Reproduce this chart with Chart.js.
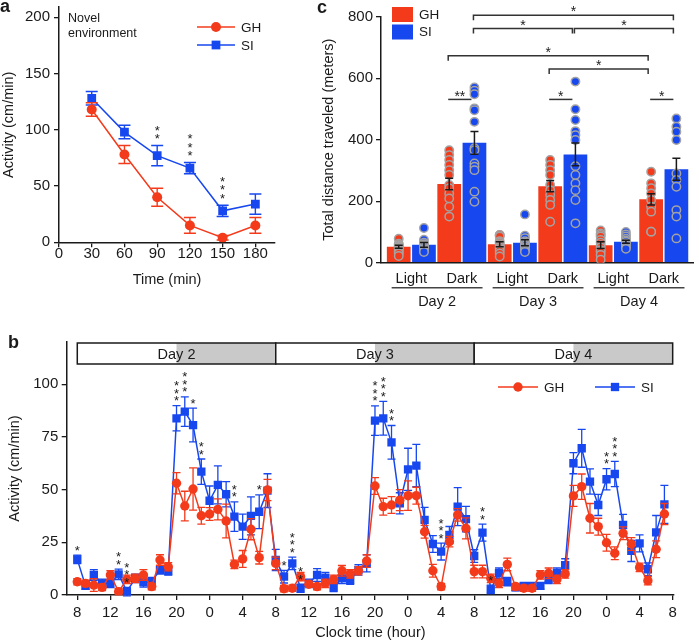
<!DOCTYPE html>
<html>
<head>
<meta charset="utf-8">
<title>GH vs SI activity</title>
<script src="https://cdn.jsdelivr.net/npm/chart.js@4.4.1/dist/chart.umd.min.js"></script>
<style>
    body { margin: 0; background: #fff; }
    .figure { position: relative; width: 699px; height: 642px; overflow: hidden; }
    .figure canvas { position: absolute; }
</style>
</head>
<body>
<div class="figure">
    <canvas id="noveltyLine" width="290" height="300" style="left:0;top:0;"></canvas>
    <canvas id="distanceBar" width="389" height="310" style="left:310px;top:0;"></canvas>
    <canvas id="hourlyLine" width="699" height="312" style="left:0;top:330px;"></canvas>
</div>

<script>
    // ---- a: novel environment, 30 min bins
    var timeA = [30, 60, 90, 120, 150, 180];
    var ghA = [118, 78, 40, 15, 4, 15];
    var ghErrA = [6, 8, 8, 7, 2, 7];
    var siA = [128, 98, 77, 66, 28, 34];
    var siErrA = [6, 6, 9, 5, 5, 9];
    var starsA = [[2, 2], [3, 3], [4, 3]];          // [point index, number of stars]
    var xTicksA = [0, 30, 60, 90, 120, 150, 180];
    var yTicksA = [0, 50, 100, 150, 200];

    // ---- c: total distance per phase
    var phaseC = ['Light', 'Dark', 'Light', 'Dark', 'Light', 'Dark'];
    var daysC = ['Day 2', 'Day 3', 'Day 4'];
    var ghC = [52, 256, 60, 249, 57, 206];
    var ghErrC = [5, 19, 8, 18, 11, 18];
    var siC = [58, 390, 65, 352, 68, 304];
    var siErrC = [8, 37, 10, 37, 5, 36];
    var ghDotsC = [
        [78, 62, 58, 55, 52, 50, 48, 45, 40, 35, 30, 22],
        [366, 350, 334, 318, 301, 285, 253, 242, 225, 209, 182, 150],
        [90, 90, 85, 70, 65, 60, 55, 50, 45, 38, 30, 20],
        [334, 318, 301, 285, 253, 236, 220, 204, 188, 133],
        [105, 95, 90, 85, 74, 65, 57, 50, 41, 35, 25, 10],
        [296, 258, 242, 225, 204, 182, 166, 101, 101]
    ];
    var siDotsC = [
        [113, 75, 65, 60, 58, 55, 50, 45, 40, 35],
        [570, 559, 548, 502, 496, 458, 372, 366, 323, 312, 301, 231, 198],
        [157, 88, 80, 70, 65, 60, 55, 50, 45, 40, 35],
        [589, 499, 464, 428, 415, 399, 314, 285, 258, 236, 204, 128],
        [100, 92, 85, 78, 72, 68, 62, 57, 50, 45],
        [469, 442, 426, 399, 290, 269, 247, 171, 150, 79]
    ];
    var yTicksC = [0, 200, 400, 600, 800];
    // [from bar, to bar, level, label, end ticks]  bars: 0..11 = GH,SI per phase
    var bracketsC = [
        [2, 3, 531, '**', false], [6, 7, 531, '*', false], [10, 11, 531, '*', false],
        [6, 10, 630, '*', true], [2, 10, 673, '*', true],
        [3, 7, 762, '*', true], [7, 11, 762, '*', true], [3, 11, 805, '*', true]
    ];

    // ---- b: hourly activity, day 2 08:00 to day 5 07:00
    var xTickLabelsB = ['8', '12', '16', '20', '0', '4', '8', '12', '16', '20', '0', '4', '8', '12', '16', '20', '0', '4', '8'];
    var daysB = ['Day 2', 'Day 3', 'Day 4'];
    var ghB = [
        6.3, 5.5, 4.7, 3.6, 9.5, 1.6, 7.4, 7.9, 9.5, 4.0, 16.6, 13.4,
        53.0, 42.2, 50.3, 37.6, 38.4, 40.6, 35.1, 14.5, 17.1, 31.2, 17.7, 49.8,
        15.0, 3.0, 3.2, 8.7, 5.1, 4.0, 5.5, 7.4, 11.5, 10.0, 11.5, 16.1,
        51.7, 41.9, 42.7, 45.0, 47.1, 47.1, 30.0, 11.5, 4.0, 25.3, 38.0, 31.6,
        11.1, 11.1, 7.9, 5.5, 14.5, 4.0, 3.2, 3.2, 9.5, 10.3, 7.4, 10.0,
        47.0, 51.4, 36.4, 32.4, 24.8, 19.8, 29.3, 24.2, 13.1, 6.8, 21.7, 38.4
    ];
    var ghErrB = [
        1.5, 1.5, 3, 1.5, 2, 1.5, 2, 2, 2.5, 1.5, 2.5, 2,
        5, 7, 10, 4, 3, 5, 8, 2, 4, 5, 3, 5,
        3, 1.5, 1.5, 2, 1.5, 1.5, 2, 2, 2.5, 2, 2, 3,
        4, 4, 4, 5, 7, 4, 3, 3, 1.5, 2.5, 3, 5,
        3, 3, 2, 2, 3, 1.5, 1.5, 1.5, 2, 2.5, 2, 2,
        5, 6, 7, 4, 4, 3, 3, 3, 2, 2, 4, 5
    ];
    var siB = [
        16.9, 4.3, 9.5, 5.5, 5.5, 9.8, 1.6, 7.9, 6.3, 6.3, 11.9, 11.4,
        83.8, 87.0, 80.6, 58.5, 44.7, 52.2, 47.8, 37.2, 32.4, 37.5, 39.5, 49.5,
        16.6, 8.7, 15.0, 3.2, 5.5, 9.5, 8.2, 3.6, 7.9, 7.1, 11.9, 15.0,
        82.7, 83.8, 72.4, 43.5, 59.6, 61.4, 35.6, 24.2, 20.6, 28.5, 41.9, 36.0,
        18.5, 29.6, 2.7, 10.3, 6.3, 3.6, 4.3, 4.3, 4.3, 7.4, 10.3, 14.2,
        62.5, 69.6, 53.8, 42.7, 54.9, 57.4, 33.2, 20.9, 24.5, 12.2, 29.7, 43.0
    ];
    var siErrB = [
        2, 1.5, 2.5, 2, 2, 2.5, 2, 2, 2.5, 2, 2, 2,
        6, 7, 8, 6, 7, 9, 6, 7, 6, 9, 8, 8,
        5, 3, 3, 2, 2, 3, 2.5, 2, 2.5, 2, 2.5, 4,
        7, 8, 8, 5, 10, 10, 6, 4, 4, 4, 9, 6,
        3, 4, 2, 2.5, 2, 1.5, 1.5, 1.5, 1.5, 2, 2.5, 3,
        5, 9, 6, 5, 5, 6, 5, 5, 4, 3, 8, 9
    ];
    var starsB = [[0, 1], [5, 2], [6, 3], [12, 3], [13, 3], [14, 1], [15, 2], [19, 2], [22, 1],
        [25, 1], [26, 3], [27, 2], [36, 3], [37, 3], [38, 2], [44, 3], [49, 2], [50, 1], [64, 2], [65, 3]];
    var yTicksB = [0, 25, 50, 75, 100];

    var RED = '#f33b1c';
    var BLUE = '#1747ee';
    var INK = '#1a1a1a';
    var FAMILY = '"Liberation Sans", Arial, Helvetica, sans-serif';

    Chart.defaults.font.family = FAMILY;
    Chart.defaults.color = INK;
    Chart.defaults.animation = false;

    function font(px, bold) {
        return (bold ? 'bold ' : '') + px + 'px ' + FAMILY;
    }

    function fixWidth(w) {
        return function (scale) {
            scale.width = w;
            scale.paddingTop = 0; scale.paddingBottom = 0; scale.paddingLeft = 0; scale.paddingRight = 0;
        };
    }

    function fixHeight(h) {
        return function (scale) {
            scale.height = h;
            scale.paddingTop = 0; scale.paddingBottom = 0; scale.paddingLeft = 0; scale.paddingRight = 0;
        };
    }

    function setTicks(values) {
        return function (scale) {
            scale.ticks = values.map(function (v) { return {value: v}; });
        };
    }

    function axisGrid(tickLen) {
        return {display: tickLen > 0, drawOnChartArea: false, tickLength: tickLen, color: INK, lineWidth: 1.3};
    }

    function drawMarker(ctx, style, r, x, y) {
        ctx.beginPath();
        if (style === 'rect') {
            var s = r * Math.SQRT1_2;
            ctx.rect(x - s, y - s, 2 * s, 2 * s);
        } else {
            ctx.arc(x, y, r, 0, Math.PI * 2);
        }
        ctx.fill();
    }

    // vertical column of asterisks, centre of lowest one at yLow
    function drawStars(ctx, x, yLow, n, size, step) {
        ctx.font = font(size);
        ctx.textAlign = 'center';
        ctx.textBaseline = 'alphabetic';
        for (var k = 0; k < n; k++) {
            ctx.fillText('*', x, yLow - k * step + 0.58 * size);
        }
    }

    // SEM bars under each line dataset
    var lineErrors = {
        id: 'lineErrors',
        beforeDatasetDraw: function (chart, args, opts) {
            var err = opts.errors[args.index];
            if (!err) return;
            var ds = chart.data.datasets[args.index];
            var ys = chart.scales.y;
            var ctx = chart.ctx;
            ctx.save();
            ctx.strokeStyle = ds.borderColor;
            ctx.lineWidth = opts.width;
            args.meta.data.forEach(function (pt, i) {
                var v = ds.data[i].y;
                var hi = ys.getPixelForValue(v + err[i]);
                var lo = ys.getPixelForValue(v - err[i]);
                ctx.beginPath();
                ctx.moveTo(pt.x, lo); ctx.lineTo(pt.x, hi);
                ctx.moveTo(pt.x - opts.cap, hi); ctx.lineTo(pt.x + opts.cap, hi);
                ctx.moveTo(pt.x - opts.cap, lo); ctx.lineTo(pt.x + opts.cap, lo);
                ctx.stroke();
            });
            ctx.restore();
        }
    };

    // significance stars, legend, day bar, notes
    var lineExtras = {
        id: 'lineExtras',
        afterDraw: function (chart, args, opts) {
            var ctx = chart.ctx;
            var xs = chart.scales.x, ys = chart.scales.y, area = chart.chartArea;
            ctx.save();

            if (opts.days) {
                var top = area.top + 1, h = 21;
                opts.days.forEach(function (d, k) {
                    var x0 = xs.getPixelForValue(24 * k), xm = xs.getPixelForValue(24 * k + 12), x1 = xs.getPixelForValue(24 * k + 24);
                    ctx.fillStyle = '#fff';
                    ctx.fillRect(x0, top, xm - x0, h);
                    ctx.fillStyle = '#c9c9c9';
                    ctx.fillRect(xm, top, x1 - xm, h);
                    ctx.strokeStyle = INK;
                    ctx.lineWidth = 1.5;
                    ctx.strokeRect(x0, top, x1 - x0, h);
                    ctx.fillStyle = INK;
                    ctx.font = font(14.5);
                    ctx.textAlign = 'center';
                    ctx.textBaseline = 'middle';
                    ctx.fillText(d, xm, top + h / 2 + 1);
                });
            }

            var sds = chart.data.datasets[1];
            var smeta = chart.getDatasetMeta(1);
            ctx.fillStyle = INK;
            opts.stars.forEach(function (s) {
                var i = s[0];
                var hi = ys.getPixelForValue(sds.data[i].y + opts.starErr[i]);
                drawStars(ctx, smeta.data[i].x, hi - opts.starGap, s[1], 13, opts.starStep);
            });

            opts.key.forEach(function (it) {
                var ds = chart.data.datasets[it.dataset];
                ctx.strokeStyle = ds.borderColor;
                ctx.fillStyle = ds.borderColor;
                ctx.lineWidth = 1.5;
                ctx.beginPath();
                ctx.moveTo(it.x, it.y);
                ctx.lineTo(it.x + it.len, it.y);
                ctx.stroke();
                drawMarker(ctx, ds.pointStyle, ds.pointRadius, it.x + it.len / 2, it.y);
                ctx.fillStyle = INK;
                ctx.font = font(13.5);
                ctx.textAlign = 'left';
                ctx.textBaseline = 'middle';
                ctx.fillText(ds.label, it.x + it.len + 6, it.y + 1);
            });

            opts.notes.forEach(function (n) {
                ctx.fillStyle = INK;
                ctx.font = n.font;
                ctx.textAlign = 'left';
                ctx.textBaseline = 'middle';
                ctx.fillText(n.text, n.x, n.y);
            });
            ctx.restore();
        }
    };

    // SEM, brackets, legend and day labels for the bar panel
    var distanceExtras = {
        id: 'distanceExtras',
        afterDatasetsDraw: function (chart) {
            var ctx = chart.ctx;
            var xs = chart.scales.x, ys = chart.scales.y, area = chart.chartArea;
            var gh = chart.getDatasetMeta(2), si = chart.getDatasetMeta(3);
            function barX(k) { return (k % 2 ? si : gh).data[Math.floor(k / 2)].x; }
            ctx.save();

            ctx.strokeStyle = INK;
            ctx.lineWidth = 1.5;
            [[gh, ghC, ghErrC], [si, siC, siErrC]].forEach(function (set) {
                set[0].data.forEach(function (bar, i) {
                    var hi = ys.getPixelForValue(set[1][i] + set[2][i]);
                    var lo = ys.getPixelForValue(set[1][i] - set[2][i]);
                    ctx.beginPath();
                    ctx.moveTo(bar.x, lo); ctx.lineTo(bar.x, hi);
                    ctx.moveTo(bar.x - 4, lo); ctx.lineTo(bar.x + 4, lo);
                    ctx.moveTo(bar.x - 4, hi); ctx.lineTo(bar.x + 4, hi);
                    ctx.stroke();
                });
            });

            ctx.strokeStyle = '#333';
            ctx.fillStyle = INK;
            bracketsC.forEach(function (b) {
                var x1 = barX(b[0]) - 1, x2 = barX(b[1]) - 3;
                var y = ys.getPixelForValue(b[2]);
                ctx.beginPath();
                if (b[4]) {
                    ctx.moveTo(x1, y + 5); ctx.lineTo(x1, y); ctx.lineTo(x2, y); ctx.lineTo(x2, y + 5);
                } else {
                    ctx.moveTo(x1, y); ctx.lineTo(x2, y);
                }
                ctx.stroke();
                ctx.font = font(14);
                ctx.textAlign = 'center';
                ctx.textBaseline = 'alphabetic';
                ctx.fillText(b[3], (x1 + x2) / 2, y - 7 + 0.58 * 14);
            });

            ctx.strokeStyle = '#444';
            ctx.lineWidth = 1.5;
            daysC.forEach(function (d, k) {
                var x1 = xs.getPixelForValue(2 * k - 0.39), x2 = xs.getPixelForValue(2 * k + 1.41);
                var y = area.bottom + 25;
                ctx.beginPath();
                ctx.moveTo(x1, y); ctx.lineTo(x2, y);
                ctx.stroke();
                ctx.font = font(14.5);
                ctx.textAlign = 'center';
                ctx.textBaseline = 'middle';
                ctx.fillText(d, (x1 + x2) / 2, y + 14);
            });

            [gh, si].forEach(function (meta, k) {
                var ds = chart.data.datasets[meta.index];
                ctx.fillStyle = ds.backgroundColor;
                ctx.fillRect(82, 7 + 17.5 * k, 21, 15);
                ctx.fillStyle = INK;
                ctx.font = font(13.5);
                ctx.textAlign = 'left';
                ctx.textBaseline = 'middle';
                ctx.fillText(ds.label, 109, 15 + 17.5 * k);
            });

            ctx.font = font(18, true);
            ctx.textAlign = 'center';
            ctx.textBaseline = 'middle';
            ctx.fillText('c', 12, 8);
            ctx.restore();
        }
    };

    function makeNoveltyLine() {
        var ctx = document.getElementById('noveltyLine').getContext('2d');
        new Chart(ctx, {
            type: 'line',
            data: {
                datasets: [{
                    label: 'GH',
                    data: timeA.map(function (t, i) { return {x: t, y: ghA[i]}; }),
                    borderColor: RED, backgroundColor: RED, pointBackgroundColor: RED,
                    pointStyle: 'circle', pointRadius: 5, pointBorderWidth: 0, borderWidth: 1.5, tension: 0
                }, {
                    label: 'SI',
                    data: timeA.map(function (t, i) { return {x: t, y: siA[i]}; }),
                    borderColor: BLUE, backgroundColor: BLUE, pointBackgroundColor: BLUE,
                    pointStyle: 'rect', pointRadius: 6.2, pointBorderWidth: 0, borderWidth: 1.5, tension: 0
                }]
            },
            options: {
                responsive: false,
                layout: {padding: {top: 7.2, right: 15, left: 0, bottom: 0}},
                plugins: {
                    legend: {display: false},
                    tooltip: {enabled: false},
                    lineErrors: {errors: [ghErrA, siErrA], cap: 6, width: 1.4},
                    lineExtras: {
                        stars: starsA, starErr: siErrA, starGap: 10, starStep: 8.3,
                        key: [{dataset: 0, x: 197, y: 27, len: 38}, {dataset: 1, x: 197, y: 45, len: 38}],
                        notes: [
                            {text: 'Novel', x: 68, y: 18.5, font: font(12.5)},
                            {text: 'environment', x: 68, y: 34, font: font(12.5)},
                            {text: 'a', x: 0, y: 7, font: font(18, true)}
                        ]
                    }
                },
                scales: {
                    x: {
                        type: 'linear', min: 0, max: 198,
                        afterBuildTicks: setTicks(xTicksA),
                        afterFit: fixHeight(57.7),
                        grid: axisGrid(5),
                        border: {display: true, color: INK, width: 1.5},
                        ticks: {font: {size: 15}, padding: -2, maxRotation: 0, autoSkip: false},
                        title: {display: true, text: 'Time (min)', font: {size: 14.5}, padding: {top: 0, bottom: 11}}
                    },
                    y: {
                        min: 0, max: 209,
                        afterBuildTicks: setTicks(yTicksA),
                        afterFit: fixWidth(59),
                        grid: axisGrid(5),
                        border: {display: true, color: INK, width: 1.5},
                        ticks: {font: {size: 15}, padding: 4},
                        title: {display: true, text: 'Activity (cm/min)', font: {size: 14.5}, padding: {top: 0, bottom: 0}}
                    }
                }
            },
            plugins: [lineErrors, lineExtras]
        });
    }

    function makeDistanceBar() {
        var ctx = document.getElementById('distanceBar').getContext('2d');
        function dots(sets, shift) {
            var pts = [];
            sets.forEach(function (vals, i) {
                vals.forEach(function (v) { pts.push({x: i + shift, y: v}); });
            });
            return pts;
        }
        new Chart(ctx, {
            type: 'bar',
            data: {
                datasets: [{
                    type: 'scatter', label: 'GH animals', data: dots(ghDotsC, -0.25), order: 0,
                    backgroundColor: RED, borderColor: '#a3a3a3', borderWidth: 1.5, pointRadius: 4.2
                }, {
                    type: 'scatter', label: 'SI animals', data: dots(siDotsC, 0.25), order: 0,
                    backgroundColor: BLUE, borderColor: '#a3a3a3', borderWidth: 1.5, pointRadius: 4.2
                }, {
                    label: 'GH',
                    data: phaseC.map(function (p, i) { return {x: i, y: ghC[i]}; }),
                    backgroundColor: RED, order: 1, categoryPercentage: 1, barPercentage: 0.94
                }, {
                    label: 'SI',
                    data: phaseC.map(function (p, i) { return {x: i, y: siC[i]}; }),
                    backgroundColor: BLUE, order: 1, categoryPercentage: 1, barPercentage: 0.94
                }]
            },
            options: {
                responsive: false,
                layout: {padding: {top: 16.7, right: 1, left: 0, bottom: 0}},
                plugins: {legend: {display: false}, tooltip: {enabled: false}},
                scales: {
                    x: {
                        type: 'linear', min: -0.601, max: 5.585, offset: false,
                        afterBuildTicks: setTicks([0, 1, 2, 3, 4, 5]),
                        afterFit: fixHeight(47.3),
                        grid: {display: false},
                        border: {display: true, color: INK, width: 1.5},
                        ticks: {
                            font: {size: 14.5}, padding: 0, maxRotation: 0, autoSkip: false,
                            callback: function (value) { return phaseC[value]; }
                        }
                    },
                    y: {
                        min: 0, max: 800,
                        afterBuildTicks: setTicks(yTicksC),
                        afterFit: fixWidth(71),
                        grid: axisGrid(5),
                        border: {display: true, color: INK, width: 1.5},
                        ticks: {font: {size: 15}, padding: 3},
                        title: {display: true, text: 'Total distance traveled (meters)', font: {size: 14.5}, padding: {top: 10.3, bottom: 0}}
                    }
                }
            },
            plugins: [distanceExtras]
        });
    }

    function makeHourlyLine() {
        var ctx = document.getElementById('hourlyLine').getContext('2d');
        new Chart(ctx, {
            type: 'line',
            data: {
                datasets: [{
                    label: 'GH',
                    data: ghB.map(function (v, i) { return {x: i, y: v}; }),
                    borderColor: RED, backgroundColor: RED, pointBackgroundColor: RED,
                    pointStyle: 'circle', pointRadius: 4.7, pointBorderWidth: 0, borderWidth: 1.5, tension: 0
                }, {
                    label: 'SI',
                    data: siB.map(function (v, i) { return {x: i, y: v}; }),
                    borderColor: BLUE, backgroundColor: BLUE, pointBackgroundColor: BLUE,
                    pointStyle: 'rect', pointRadius: 5.9, pointBorderWidth: 0, borderWidth: 1.5, tension: 0
                }]
            },
            options: {
                responsive: false,
                layout: {padding: {top: 12, right: 25, left: 0, bottom: 0}},
                plugins: {
                    legend: {display: false},
                    tooltip: {enabled: false},
                    lineErrors: {errors: [ghErrB, siErrB], cap: 4, width: 1.3},
                    lineExtras: {
                        days: daysB,
                        stars: starsB, starErr: siErrB, starGap: 8, starStep: 7.5,
                        key: [{dataset: 0, x: 498, y: 57, len: 40}, {dataset: 1, x: 595, y: 57, len: 40}],
                        notes: [{text: 'b', x: 8, y: 13.5, font: font(18, true)}]
                    }
                },
                scales: {
                    x: {
                        type: 'linear', min: -1.28, max: 72.16,
                        afterBuildTicks: setTicks(xTickLabelsB.map(function (l, k) { return k * 4; })),
                        afterFit: fixHeight(47),
                        grid: axisGrid(5),
                        border: {display: true, color: INK, width: 1.5},
                        ticks: {
                            font: {size: 15}, padding: 3.5, maxRotation: 0, autoSkip: false,
                            callback: function (value, index) { return xTickLabelsB[index]; }
                        },
                        title: {display: true, text: 'Clock time (hour)', font: {size: 14.5}, padding: {top: 0, bottom: 0}}
                    },
                    y: {
                        min: 0, max: 120,
                        afterBuildTicks: setTicks(yTicksB),
                        afterFit: fixWidth(66.7),
                        grid: axisGrid(5),
                        border: {display: true, color: INK, width: 1.5},
                        ticks: {font: {size: 15}, padding: 3.4},
                        title: {display: true, text: 'Activity (cm/min)', font: {size: 14.5}, padding: {top: 6.3, bottom: 0}}
                    }
                }
            },
            plugins: [lineErrors, lineExtras]
        });
    }

    makeNoveltyLine();
    makeDistanceBar();
    makeHourlyLine();
</script>
</body>
</html>
